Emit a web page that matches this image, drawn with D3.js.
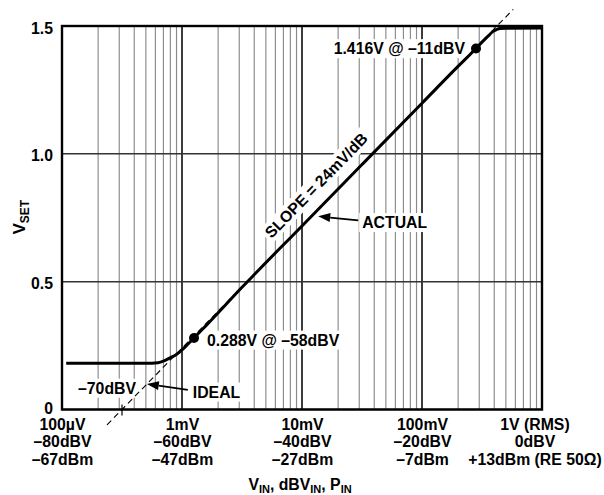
<!DOCTYPE html>
<html><head><meta charset="utf-8">
<script src="https://cdn.jsdelivr.net/npm/d3@7"></script>
<style>
body{margin:0;background:#fff;}
svg{display:block;font-family:"Liberation Sans",Arial,Helvetica,sans-serif;font-weight:bold;}
</style></head><body>
<svg id="chart" width="604" height="495"></svg>
<script>
// ---- data ----
const xTickVolts = [1e-4, 1e-3, 1e-2, 1e-1, 1];
const vinLabels = ["100µV", "1mV", "10mV", "100mV", "1V (RMS)"];
const dbvLabels = ["–80dBV", "–60dBV", "–40dBV", "–20dBV", "0dBV"];
const dbmLabels = ["–67dBm", "–47dBm", "–27dBm", "–7dBm", "+13dBm (RE 50Ω)"];
const yTicks = [0, 0.5, 1.0, 1.5];
const actualDbv = [-79.3, -70, -66, -64, -63, -62, -61, -60, -59, -58, -57, -56, -50, -40, -30, -20, -14, -11, -10, -9, -8.2, -7.5, -7, -6, 0];
const actualV   = [0.181, 0.181, 0.181, 0.183, 0.19, 0.202, 0.214, 0.233, 0.256, 0.28, 0.304, 0.328, 0.478, 0.718, 0.958, 1.198, 1.342, 1.412, 1.437, 1.46, 1.478, 1.487, 1.49, 1.491, 1.492];
const idealDbv = [-72.5, -4.8];
const idealV   = [-0.06, 1.565];
const markerDbv = [-58, -11];
const markerV   = [0.28, 1.412];
const markerLabels = ["0.288V @ –58dBV", "1.416V @ –11dBV"];
const interceptDbv = -70;

// ---- setup ----
const W = 604, H = 495;
const margin = {left: 62, right: 62, top: 26, bottom: 85.5};
const FONT = 15.8;
const svg = d3.select("#chart");
const dbv2v = d => Math.pow(10, d / 20);
const x = d3.scaleLog().domain([1e-4, 1]).range([margin.left, W - margin.right]);
const y = d3.scaleLinear().domain([0, 1.5]).range([H - margin.bottom, margin.top]);
const X0 = x.range()[0], X1 = x.range()[1], Y0 = y.range()[0], Y1 = y.range()[1];

// ---- grid ----
const grid = svg.append("g");
const isDecade = t => Math.abs(Math.log10(t) - Math.round(Math.log10(t))) < 1e-6;
grid.selectAll(".minor").data(x.ticks().filter(t => !isDecade(t))).join("line")
  .attr("x1", d => x(d)).attr("x2", d => x(d)).attr("y1", Y1).attr("y2", Y0)
  .attr("stroke", "#8a8a8a").attr("stroke-width", 1.15);
grid.selectAll(".major").data(xTickVolts).join("line")
  .attr("x1", d => x(d)).attr("x2", d => x(d)).attr("y1", Y1).attr("y2", Y0)
  .attr("stroke", "#1a1a1a").attr("stroke-width", 1.7);
grid.selectAll(".hgrid").data(yTicks).join("line")
  .attr("x1", X0).attr("x2", X1).attr("y1", d => y(d)).attr("y2", d => y(d))
  .attr("stroke", "#333").attr("stroke-width", 1.5);

// ---- layers ----
const bgLayer = svg.append("g");
const fgLayer = svg.append("g");
const lineLayer = svg.append("g");
const textLayer = svg.append("g");
function bgLabel(text, tx, ty, anchor, rot) {
  const g = textLayer.append("g").attr("transform", `translate(${tx},${ty}) rotate(${rot || 0})`);
  const t = g.append("text").attr("text-anchor", anchor).attr("dy", "0.36em")
    .attr("font-size", FONT).attr("fill", "#000").text(text);
  const b = t.node().getBBox();
  bgLayer.append("rect").attr("transform", `translate(${tx},${ty}) rotate(${rot || 0})`)
    .attr("x", b.x - 3).attr("y", b.y - 1).attr("width", b.width + 6).attr("height", b.height + 2)
    .attr("fill", "#fff");
  return g;
}

// frame
fgLayer.append("rect").attr("x", X0).attr("y", Y1).attr("width", X1 - X0).attr("height", Y0 - Y1)
  .attr("fill", "none").attr("stroke", "#000").attr("stroke-width", 2.4);

// ---- axes ----
const gx = svg.append("g").attr("transform", `translate(0,${Y0})`)
  .call(d3.axisBottom(x).tickValues(xTickVolts).tickSize(0).tickFormat((d, i) => vinLabels[i]));
gx.select(".domain").remove();
gx.attr("font-size", FONT).attr("font-family", null);
gx.selectAll(".tick text").each(function (d, i) {
  const t = d3.select(this).text(null).attr("y", null).attr("dy", null).attr("fill", "#000");
  [vinLabels[i], dbvLabels[i], dbmLabels[i]].forEach((s, k) =>
    t.append("tspan").attr("x", i === xTickVolts.length - 1 ? -7.5 : 0).attr("y", 20.5 + k * 17.3).text(s));
});

const gy = svg.append("g").attr("transform", `translate(${X0},0)`)
  .call(d3.axisLeft(y).tickValues(yTicks).tickSize(0).tickPadding(9)
    .tickFormat(d => d === 0 ? "0" : d3.format(".1f")(d)));
gy.select(".domain").remove();
gy.attr("font-size", FONT).attr("font-family", null);
gy.selectAll(".tick text").attr("dy", d => d === 0 ? "0.28em" : "0.45em").attr("fill", "#000");

// axis titles
const xt = svg.append("text").attr("x", 300).attr("y", 489.5).attr("text-anchor", "middle").attr("font-size", FONT);
xt.append("tspan").text("V");
xt.append("tspan").attr("font-size", 11).attr("dy", 3.5).text("IN");
xt.append("tspan").attr("dy", -3.5).text(", dBV");
xt.append("tspan").attr("font-size", 11).attr("dy", 3.5).text("IN");
xt.append("tspan").attr("dy", -3.5).text(", P");
xt.append("tspan").attr("font-size", 11).attr("dy", 3.5).text("IN");

const yt = svg.append("text").attr("transform", "translate(25,217) rotate(-90)").attr("text-anchor", "middle").attr("font-size", 16.5);
yt.append("tspan").text("V");
yt.append("tspan").attr("font-size", 12).attr("dy", 3.5).text("SET");

// ---- lines ----
const idealPts = idealDbv.map((d, i) => [x(dbv2v(d)), y(idealV[i])]);
lineLayer.append("path").attr("d", d3.line()(idealPts))
  .attr("fill", "none").attr("stroke", "#000").attr("stroke-width", 1.1).attr("stroke-dasharray", "6,4");
// intercept tick
lineLayer.append("line").attr("x1", x(dbv2v(interceptDbv))).attr("x2", x(dbv2v(interceptDbv)))
  .attr("y1", Y0 - 5).attr("y2", Y0 + 6).attr("stroke", "#000").attr("stroke-width", 1.2);

const actualLine = d3.line().x(d => x(dbv2v(d[0]))).y(d => y(d[1])).curve(d3.curveMonotoneX);
lineLayer.append("path").attr("d", actualLine(actualDbv.map((d, i) => [d, actualV[i]])))
  .attr("fill", "none").attr("stroke", "#000").attr("stroke-width", 3).attr("stroke-linejoin", "round");

lineLayer.selectAll(".marker").data(markerDbv).join("circle")
  .attr("cx", d => x(dbv2v(d))).attr("cy", (d, i) => y(markerV[i])).attr("r", 5).attr("fill", "#000");

// ---- annotations ----
bgLabel(markerLabels[0], x(dbv2v(markerDbv[0])) + 13, y(markerV[0]) + 2, "start");
bgLabel(markerLabels[1], x(dbv2v(markerDbv[1])) - 11, y(markerV[1]), "end");

// slope label along ideal line
const ang = Math.atan2(idealPts[1][1] - idealPts[0][1], idealPts[1][0] - idealPts[0][0]);
const tpos = (-35.5 - idealDbv[0]) / (idealDbv[1] - idealDbv[0]);
const px = idealPts[0][0] + tpos * (idealPts[1][0] - idealPts[0][0]);
const py = idealPts[0][1] + tpos * (idealPts[1][1] - idealPts[0][1]);
const off = 18;
bgLabel("SLOPE = 24mV/dB", px + off * Math.sin(ang), py - off * Math.cos(ang), "middle", ang * 180 / Math.PI);

// intercept label
bgLabel("–70dBV", x(dbv2v(interceptDbv)) + 14, Y0 - 21.5, "end");

// arrows
function arrow(x1, y1, x2, y2) {
  const a = Math.atan2(y2 - y1, x2 - x1), L = 12, w = 4.5;
  const bx = x2 - L * Math.cos(a), by = y2 - L * Math.sin(a);
  textLayer.append("line").attr("x1", x1).attr("y1", y1).attr("x2", bx).attr("y2", by)
    .attr("stroke", "#000").attr("stroke-width", 1.8);
  textLayer.append("path").attr("d",
    `M${x2},${y2}L${bx + w * Math.sin(a)},${by - w * Math.cos(a)}L${bx - w * Math.sin(a)},${by + w * Math.cos(a)}Z`)
    .attr("fill", "#000");
}
// ACTUAL
const ax = x(dbv2v(-37.3)), ay = y(0.775);
bgLabel("ACTUAL", ax + 44, ay + 11, "start");
arrow(ax + 40, ay + 9, ax, ay + 5);
// IDEAL
const ix = x(dbv2v(-66.2)), iy = y(0.1);
bgLabel("IDEAL", ix + 48, iy + 8, "start");
arrow(ix + 43, iy + 6, ix + 2, iy);
</script>
</body></html>
